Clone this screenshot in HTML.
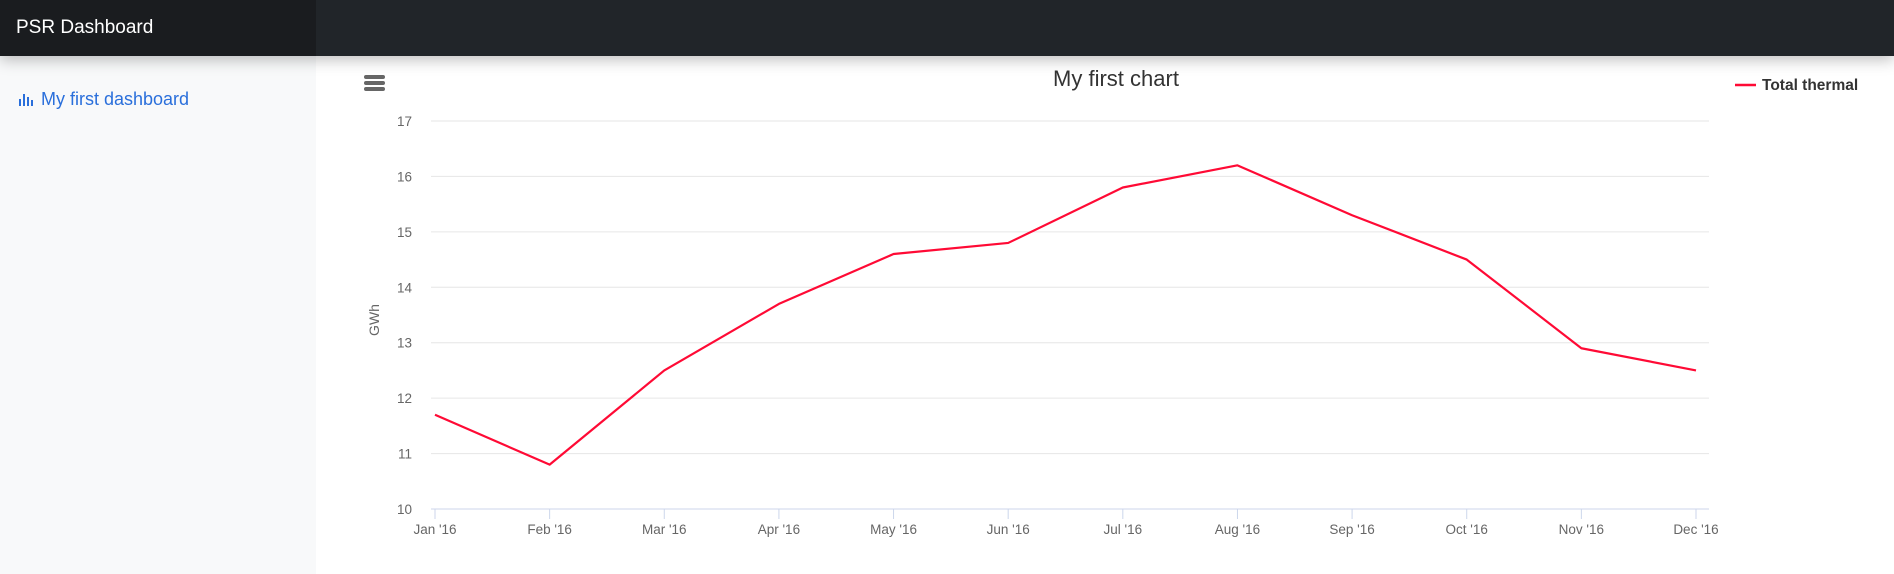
<!DOCTYPE html>
<html><head><meta charset="utf-8"><style>
body{margin:0;width:1894px;height:574px;overflow:hidden;font-family:"Liberation Sans",sans-serif;background:#fff;position:relative}
#hdr{position:absolute;left:0;top:0;width:1894px;height:56px;background:#212529;box-shadow:0 4px 14px rgba(0,0,0,.25);z-index:2}
#brand{position:absolute;left:0;top:0;width:316px;height:56px;background:#1a1c1f;color:#fff;font-size:19px;line-height:56px;padding-left:16px;box-sizing:border-box}
#side{position:absolute;left:0;top:56px;width:316px;height:518px;background:#f8f9fa}
#link{position:absolute;left:18px;top:89px;color:#2a6fdb;font-size:18px}
svg{position:absolute;left:0;top:0}
</style></head><body>
<div id="hdr"><div id="brand">PSR Dashboard</div></div>
<div id="side"></div>
<div id="link"><svg style="position:static;vertical-align:-2px" width="18" height="16"><rect x="1" y="8" width="2" height="7" fill="#2a6fdb"/><rect x="5" y="3" width="2" height="12" fill="#2a6fdb"/><rect x="9" y="6" width="2" height="9" fill="#2a6fdb"/><rect x="13" y="9" width="2" height="6" fill="#2a6fdb"/></svg> My first dashboard</div>
<svg id="chart" width="1894" height="574"></svg>
<script>
const categories=["Jan '16","Feb '16","Mar '16","Apr '16","May '16","Jun '16","Jul '16","Aug '16","Sep '16","Oct '16","Nov '16","Dec '16"];
const values=[11.7,10.8,12.5,13.7,14.6,14.8,15.8,16.2,15.3,14.5,12.9,12.5];
const yTicks=[10,11,12,13,14,15,16,17];
const svg=document.getElementById('chart');const NS='http://www.w3.org/2000/svg';
function el(t,a,p){const e=document.createElementNS(NS,t);for(const k in a)e.setAttribute(k,a[k]);(p||svg).appendChild(e);return e;}
const L=431,R=1709,T=121,B=509;
const x=i=>435+i*(1696-435)/(categories.length-1);
const y=v=>B-(v-10)/(17-10)*(B-T);
yTicks.forEach(v=>{
 const g=el('line',{x1:L,x2:R,y1:y(v),y2:y(v),stroke:v===10?'#ccd6eb':'#e6e6e6','stroke-width':1});
 
 const t=el('text',{x:412,y:y(v)+5,'text-anchor':'end','font-size':13.5,fill:'#666'});t.textContent=v;
 
});
categories.forEach((c,i)=>{
 const k=el('line',{x1:x(i),x2:x(i),y1:B,y2:B+10,stroke:'#ccd6eb'});
 
 const t=el('text',{x:x(i),y:B+25,'text-anchor':'middle','font-size':13.5,fill:'#666'});t.textContent=c;
 
});
const p=el('polyline',{points:values.map((v,i)=>x(i)+','+y(v)).join(' '),fill:'none',stroke:'#ff0a35','stroke-width':2.2,'stroke-linejoin':'round'});

const ti=el('text',{x:1116,y:86,'text-anchor':'middle','font-size':22,fill:'#333'});ti.textContent='My first chart';

const ya=el('text',{x:0,y:0,'text-anchor':'middle','font-size':14,fill:'#666',transform:'translate(379,320) rotate(-90)'});ya.textContent='GWh';

const lg=el('g',{});
el('line',{x1:1735,x2:1756,y1:85,y2:85,stroke:'#ff0a35','stroke-width':2.5},lg);
const lt=el('text',{x:1762,y:90,'font-size':15.5,'font-weight':'bold',fill:'#333'},lg);lt.textContent='Total thermal';
const mb=el('g',{});
[75,81,87].forEach(yy=>el('rect',{x:364,y:yy,width:21,height:4,rx:2,fill:'#666'},mb));
</script>
</body></html>
